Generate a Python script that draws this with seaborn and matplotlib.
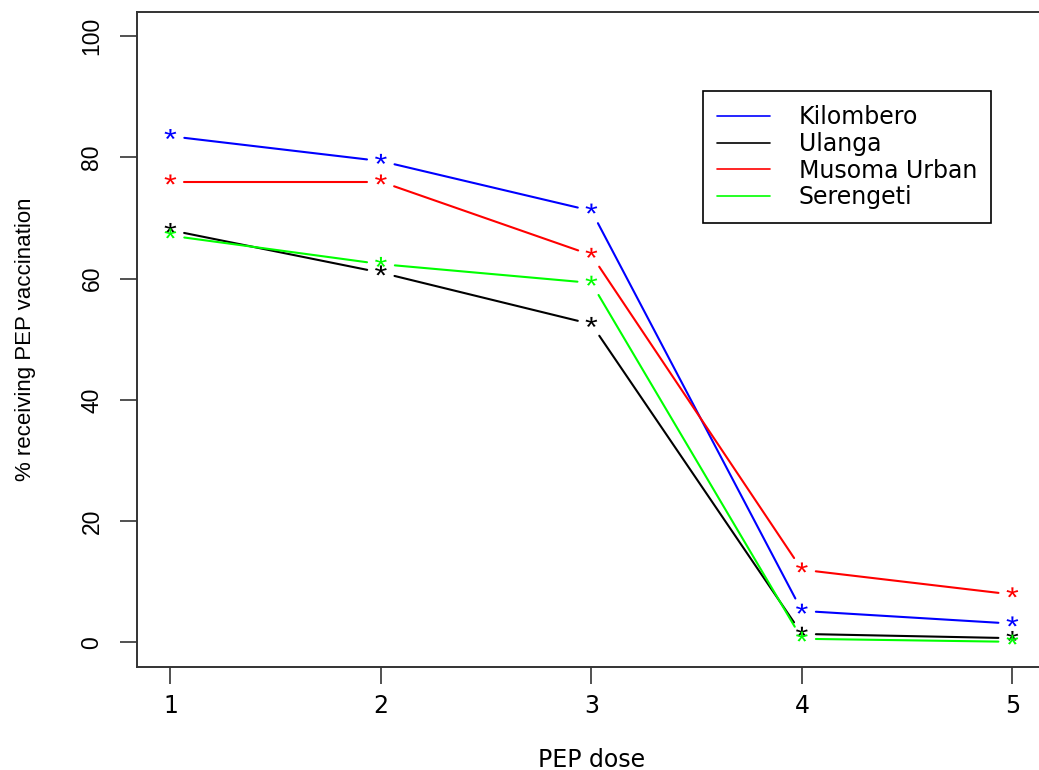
import numpy as np
import pandas as pd
import matplotlib
matplotlib.use("Agg")
import matplotlib.pyplot as plt
from matplotlib.lines import Line2D
from matplotlib.textpath import TextPath
from matplotlib.font_manager import FontProperties
from matplotlib.path import Path
import seaborn as sns

# ---- data ----
doses = [1, 2, 3, 4, 5]
kilombero = [83.5, 79.4, 71.2, 5.2, 3.1]
ulanga = [68.0, 61.0, 52.5, 1.4, 0.7]
musoma_urban = [76.0, 76.0, 63.9, 12.0, 7.9]
serengeti = [67.1, 62.4, 59.3, 0.6, 0.1]
districts = ["Kilombero", "Ulanga", "Musoma Urban", "Serengeti"]
colors = ["#0000FF", "#000000", "#FF0000", "#00FF00"]
yticks = [0, 20, 40, 60, 80, 100]

series = dict(zip(districts, [kilombero, ulanga, musoma_urban, serengeti]))
palette = dict(zip(districts, colors))

df = pd.DataFrame(
    [(d, x, v) for d in districts for x, v in zip(doses, series[d])],
    columns=["district", "dose", "pct"],
)

sns.set_theme(style="white")
plt.rcParams["font.family"] = ["DejaVu Sans"]
plt.rcParams["text.color"] = "black"
plt.rcParams["axes.labelcolor"] = "black"
plt.rcParams["xtick.color"] = "black"
plt.rcParams["ytick.color"] = "black"

fig = plt.figure(figsize=(10.39, 7.70), dpi=100)
ax = fig.add_axes([0.1316, 0.1342, 0.8752, 0.8503])
ax.set_xlim(0.84, 5.16)
ax.set_ylim(-4, 104)

# ---- lines with gaps around points (like R type="b") ----
gap = 14.0  # pixels
rows = []
seg_id = 0
for d in districts:
    pts = ax.transData.transform(np.column_stack([doses, series[d]]))
    for i in range(len(pts) - 1):
        p0, p1 = pts[i], pts[i + 1]
        vec = p1 - p0
        L = np.hypot(*vec)
        if L <= 2 * gap:
            continue
        u = vec / L
        q0, q1 = ax.transData.inverted().transform(np.vstack([p0 + u * gap, p1 - u * gap]))
        rows.append((d, seg_id, q0[0], q0[1]))
        rows.append((d, seg_id, q1[0], q1[1]))
        seg_id += 1
seg = pd.DataFrame(rows, columns=["district", "seg", "dose", "pct"])

sns.lineplot(data=seg, x="dose", y="pct", hue="district", units="seg",
             estimator=None, sort=False, palette=palette, lw=1.5,
             legend=False, ax=ax)

# ---- asterisk marker built from the Liberation Sans '*' glyph ----
tp = TextPath((0, 0), "*", size=1, prop=FontProperties(family="Liberation Sans"))
v = tp.vertices.copy()
codes = tp.codes.copy()
start = v[0].copy()
for i, c in enumerate(codes):
    if c == Path.MOVETO:
        start = v[i].copy()
    elif c == Path.CLOSEPOLY:
        v[i] = start
real = codes != Path.CLOSEPOLY
xmin, ymin = v[real].min(axis=0)
xmax, ymax = v[real].max(axis=0)
h = ymax - ymin
v[:, 0] -= (xmin + xmax) / 2
v[:, 1] -= (ymin + ymax) / 2
v[:, 0] *= 1.15
v[:, 1] += 0.22 * h
star = Path(v, codes)
maxabs = np.max(np.abs(v))
star_px = 10.0
ms_pt = star_px * 72 / 100 * (2 * maxabs / h)

sns.scatterplot(data=df, x="dose", y="pct", hue="district", palette=palette,
                marker=star, s=ms_pt ** 2, linewidth=0, legend=False, ax=ax,
                zorder=3)

# ---- axes styling ----
ax.set_xticks(doses)
ax.set_yticks(yticks)
ax.tick_params(axis="both", length=12, width=1.2, color="#333333",
               direction="out", bottom=True, left=True)
ax.tick_params(axis="x", pad=8, labelsize=17)
ax.tick_params(axis="y", pad=12, labelsize=16.5)
for t in ax.get_yticklabels():
    t.set_rotation(90)
    t.set_va("center")
    t.set_ha("right")
    t.set_fontfamily("Liberation Sans")
for sp in ax.spines.values():
    sp.set_color("#333333")
    sp.set_linewidth(1.4)

ax.set_xlabel("PEP dose", fontsize=17)
ax.set_ylabel("% receiving PEP vaccination", fontsize=16, family="Liberation Sans")
ax.xaxis.set_label_coords(0.5, -0.124)
ax.yaxis.set_label_coords(-0.1105, 0.5)

handles = [Line2D([], [], color=c, lw=1.2) for c in colors]
leg = ax.legend(handles, districts, loc="upper left",
                bbox_to_anchor=(703 / 1039, 1 - 91 / 770),
                bbox_transform=fig.transFigure, frameon=True, fancybox=False,
                edgecolor="black", framealpha=1, fontsize=17,
                handlelength=2.25, handletextpad=1.2, borderpad=0.6,
                labelspacing=0.115, borderaxespad=0)
leg.get_frame().set_linewidth(1.2)

fig.savefig("out.png", dpi=100)
